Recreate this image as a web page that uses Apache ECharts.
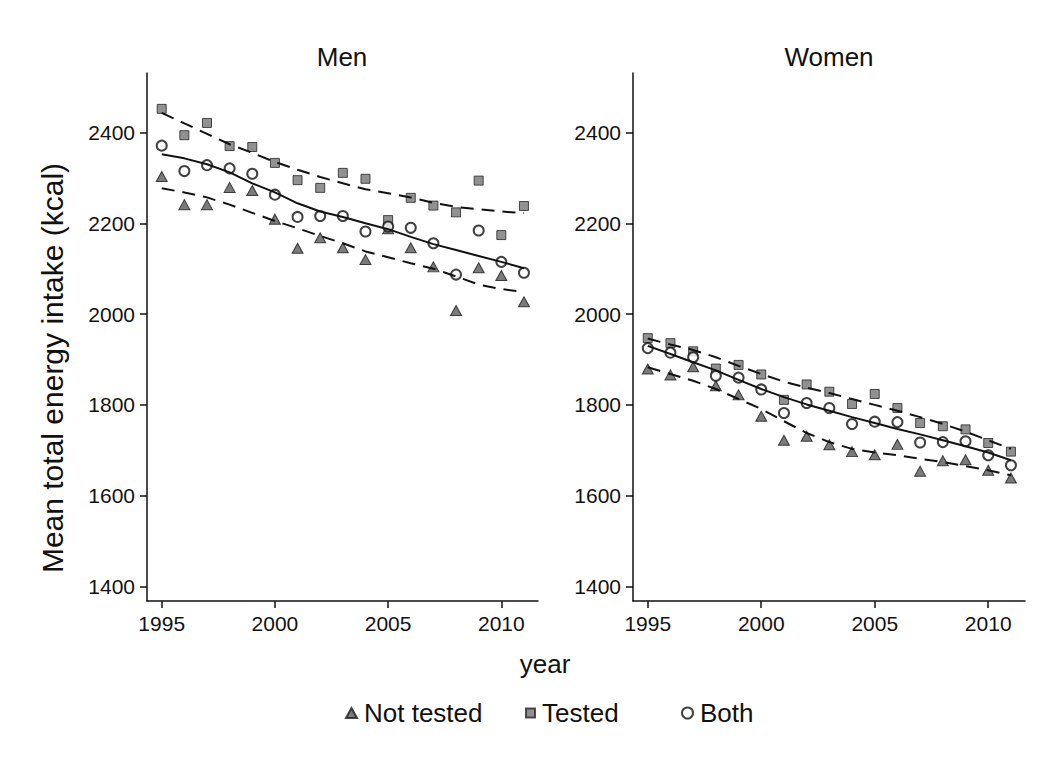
<!DOCTYPE html>
<html>
<head>
<meta charset="utf-8">
<style>
  html, body { margin: 0; padding: 0; background: #ffffff; }
  #chart { width: 1050px; height: 769px; }
</style>
<script src="https://cdn.jsdelivr.net/npm/echarts@6/dist/echarts.min.js"></script>
</head>
<body>
<div id="chart"></div>
<script>
// Survey years
const years = [1995, 1996, 1997, 1998, 1999, 2000, 2001, 2002, 2003, 2004, 2005, 2006, 2007, 2008, 2009, 2010, 2011];

// Tick labels
const xTicks = [1995, 2000, 2005, 2010];
const yTicks = [1400, 1600, 1800, 2000, 2200, 2400];

// Group names
const groups = ['Not tested', 'Tested', 'Both'];
const panels = ['Men', 'Women'];

// Men: yearly mean intake (kcal)
const menNotTested = [2303, 2241, 2241, 2279, 2272, 2209, 2145, 2168, 2146, 2120, 2188, 2146, 2104, 2008, 2102, 2085, 2027];
const menTested    = [2452, 2394, 2421, 2370, 2368, 2333, 2295, 2278, 2311, 2298, 2207, 2256, 2239, 2224, 2294, 2174, 2238];
const menBoth      = [2371, 2315, 2328, 2321, 2309, 2263, 2214, 2216, 2216, 2182, 2193, 2190, 2156, 2087, 2184, 2115, 2091];

// Men: smoothed trends
const menNotTestedFit = [2277, 2268, 2257, 2241, 2223, 2205, 2189, 2172, 2156, 2138, 2125, 2112, 2100, 2083, 2065, 2055, 2049];
const menTestedFit    = [2443, 2420, 2397, 2374, 2355, 2335, 2318, 2302, 2288, 2275, 2266, 2257, 2245, 2236, 2231, 2226, 2222];
const menBothFit      = [2352, 2343, 2330, 2312, 2288, 2268, 2244, 2226, 2214, 2200, 2187, 2170, 2154, 2141, 2128, 2115, 2101];

// Women: yearly mean intake (kcal)
const womenNotTested = [1879, 1866, 1884, 1842, 1822, 1775, 1722, 1731, 1712, 1697, 1690, 1713, 1654, 1677, 1679, 1656, 1639];
const womenTested    = [1947, 1936, 1918, 1880, 1888, 1867, 1811, 1845, 1829, 1802, 1824, 1793, 1760, 1753, 1746, 1716, 1697];
const womenBoth      = [1925, 1915, 1905, 1864, 1860, 1834, 1782, 1804, 1793, 1758, 1763, 1762, 1717, 1718, 1720, 1689, 1667];

// Women: smoothed trends
const womenNotTestedFit = [1883, 1868, 1853, 1835, 1813, 1791, 1764, 1738, 1718, 1703, 1695, 1689, 1681, 1674, 1665, 1656, 1645];
const womenTestedFit    = [1946, 1933, 1921, 1905, 1886, 1868, 1851, 1838, 1826, 1813, 1800, 1787, 1773, 1758, 1741, 1722, 1703];
const womenBothFit      = [1930, 1912, 1894, 1876, 1855, 1835, 1817, 1801, 1787, 1773, 1760, 1747, 1735, 1722, 1709, 1695, 1678];

const FONT = '"Liberation Sans", Arial, Helvetica, sans-serif';
const INK = '#111111';

const pointSets = [
  [menNotTested, menTested, menBoth],
  [womenNotTested, womenTested, womenBoth]
];
const fitSets = [
  [menNotTestedFit, menTestedFit, menBothFit],
  [womenNotTestedFit, womenTestedFit, womenBothFit]
];

// Marker look for each group
const markerStyle = {
  'Not tested': { symbol: 'triangle', symbolSize: [11, 10], itemStyle: { color: '#5a5a5a', borderColor: '#1a1a1a', borderWidth: 1 } },
  'Tested':     { symbol: 'rect', symbolSize: 9, itemStyle: { color: '#767676', borderColor: '#262626', borderWidth: 1 } },
  'Both':       { symbol: 'circle', symbolSize: 10, itemStyle: { color: '#ffffff', borderColor: '#111111', borderWidth: 2 } }
};
const fitLine = {
  'Not tested': { color: '#111111', width: 2, type: [13, 8] },
  'Tested':     { color: '#111111', width: 2, type: [13, 8] },
  'Both':       { color: '#111111', width: 2, type: 'solid' }
};

const pairs = (vals) => years.map((yr, i) => [yr, vals[i]]);

const series = [];
panels.forEach((p, pi) => {
  groups.forEach((g, gi) => {
    const m = markerStyle[g];
    series.push({
      type: 'scatter',
      name: g,
      xAxisIndex: pi,
      yAxisIndex: pi,
      symbol: m.symbol,
      symbolSize: m.symbolSize,
      itemStyle: m.itemStyle,
      data: pairs(pointSets[pi][gi]),
      z: 3
    });
  });
  groups.forEach((g, gi) => {
    series.push({
      type: 'line',
      name: g + ' trend',
      xAxisIndex: pi,
      yAxisIndex: pi,
      symbol: 'none',
      lineStyle: fitLine[g],
      data: pairs(fitSets[pi][gi]),
      z: 4
    });
  });
});

function xAxisFor(idx) {
  return {
    type: 'value',
    gridIndex: idx,
    min: 1994.35,
    max: 2011.62,
    axisLine: { show: true, lineStyle: { color: INK, width: 1.5 } },
    axisTick: { show: true, customValues: xTicks, length: 7, lineStyle: { color: INK, width: 1.5 } },
    axisLabel: { customValues: xTicks, color: INK, fontSize: 21, fontFamily: FONT, margin: 12,
                 formatter: (v) => String(v) },
    splitLine: { show: false }
  };
}
function yAxisFor(idx) {
  return {
    type: 'value',
    gridIndex: idx,
    min: 1368,
    max: 2531,
    axisLine: { show: true, lineStyle: { color: INK, width: 1.5 } },
    axisTick: { show: true, customValues: yTicks, length: 7, lineStyle: { color: INK, width: 1.5 } },
    axisLabel: { customValues: yTicks, color: INK, fontSize: 21, fontFamily: FONT, margin: 12,
                 formatter: (v) => String(v) },
    splitLine: { show: false }
  };
}

function legendFor(name, left, w, h) {
  return {
    data: [name],
    left: left,
    top: 700,
    orient: 'horizontal',
    itemWidth: w,
    itemHeight: h,
    itemGap: 6,
    textStyle: { color: INK, fontSize: 26, fontFamily: FONT, padding: [0, 0, 0, 2] },
    selectedMode: false,
    padding: 0
  };
}

const option = {
  backgroundColor: '#ffffff',
  animation: false,
  grid: [
    { left: 147, top: 73, width: 391, height: 528, containLabel: false },
    { left: 633, top: 73, width: 392, height: 528, containLabel: false }
  ],
  xAxis: [xAxisFor(0), xAxisFor(1)],
  yAxis: [yAxisFor(0), yAxisFor(1)],
  legend: [
    legendFor('Not tested', 345, 11, 10),
    legendFor('Tested', 525, 9, 9),
    legendFor('Both', 681, 11, 11)
  ],
  graphic: [
    { type: 'text', x: 342, y: 57, silent: true,
      style: { text: 'Men', fill: INK, font: '26px ' + FONT, textAlign: 'center', textVerticalAlign: 'middle' } },
    { type: 'text', x: 829, y: 57, silent: true,
      style: { text: 'Women', fill: INK, font: '26px ' + FONT, textAlign: 'center', textVerticalAlign: 'middle' } },
    { type: 'text', x: 545, y: 664, silent: true,
      style: { text: 'year', fill: INK, font: '26px ' + FONT, textAlign: 'center', textVerticalAlign: 'middle' } },
    { type: 'text', x: 52, y: 368, rotation: Math.PI / 2, silent: true,
      style: { text: 'Mean total energy intake (kcal)', fill: INK, font: '30px ' + FONT,
               textAlign: 'center', textVerticalAlign: 'middle' } }
  ],
  series: series
};

const chart = echarts.init(document.getElementById('chart'), null, { renderer: 'svg' });
chart.setOption(option);
</script>
</body>
</html>
